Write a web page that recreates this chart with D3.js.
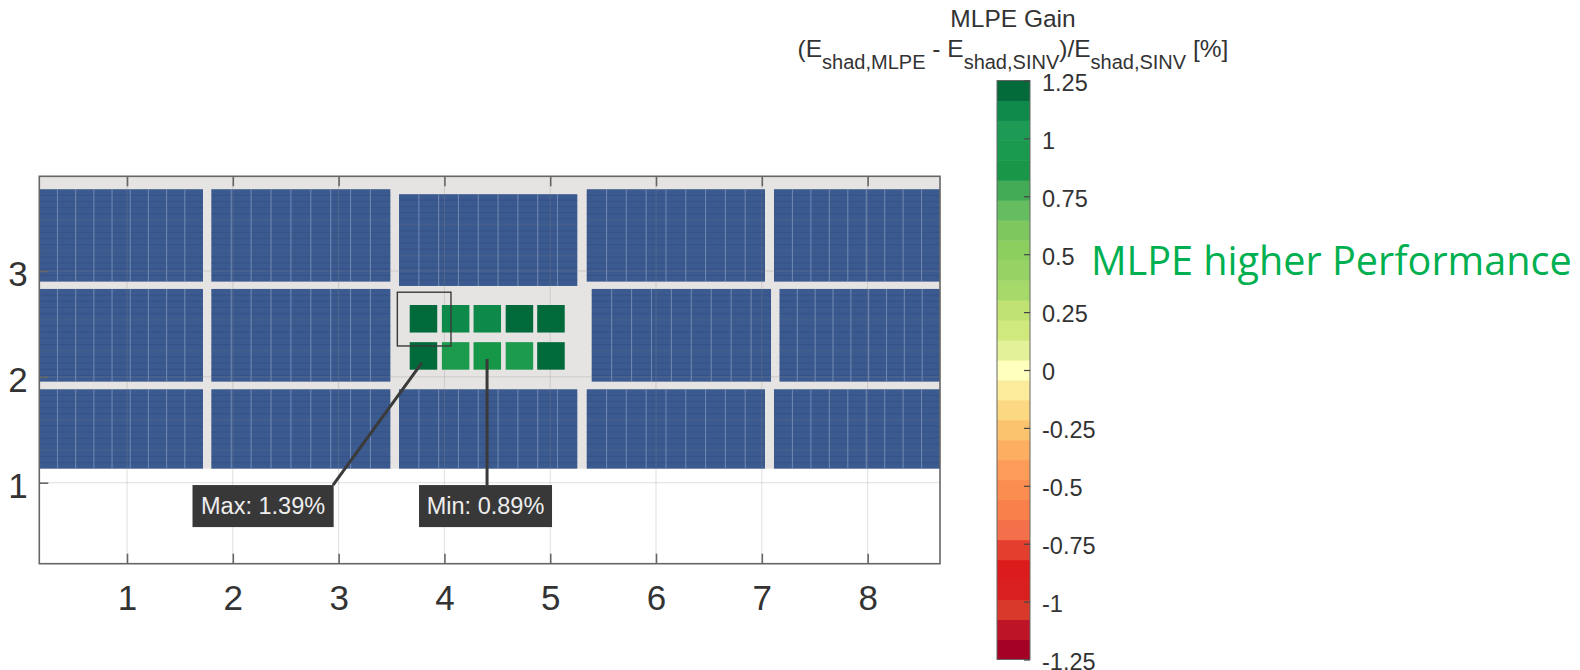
<!DOCTYPE html>
<html>
<head>
<meta charset="utf-8">
<script src="https://cdnjs.cloudflare.com/ajax/libs/d3/7.8.5/d3.min.js"></script>
<style>
  html, body { margin: 0; background: #fff; }
  svg { display: block; font-family: "Liberation Sans", Arial, sans-serif; }
</style>
</head>
<body>
<svg></svg>
<script>
const width = 1580;
const height = 670;

// axis ranges, in roof units
const xDomain = [0.171, 8.684];
const yDomain = [0.235, 3.895];
const xTicks = [1, 2, 3, 4, 5, 6, 7, 8];
const yTicks = [1, 2, 3];

// roof area behind the panels
const roofX = [0.171, 8.684];
const roofY = [1.133, 3.895];

// panel blocks: x0, x1, y0, y1, rows
const blockX0 = [0.171, 1.797, 3.571, 5.345, 7.115, 0.171, 1.797, 5.392, 7.167, 0.171, 1.797, 3.571, 5.345, 7.115];
const blockX1 = [1.718, 3.489, 5.256, 7.030, 8.684, 1.718, 3.489, 7.087, 8.684, 1.718, 3.489, 5.256, 7.030, 8.684];
const blockY0 = [2.900, 2.900, 2.859, 2.900, 2.900, 1.955, 1.955, 1.955, 1.955, 1.133, 1.133, 1.133, 1.133, 1.133];
const blockY1 = [3.773, 3.773, 3.726, 3.773, 3.773, 2.831, 2.831, 2.831, 2.831, 1.883, 1.883, 1.883, 1.883, 1.883];
const blockRows = [15, 15, 15, 15, 15, 15, 15, 15, 15, 13, 13, 13, 13, 13];
const blockCols = 9;

// the ten modules with MLPE, gain in %
const moduleX = [3.802, 4.106, 4.405, 4.709, 5.007, 3.802, 4.106, 4.405, 4.709, 5.007];
const moduleY = [2.549, 2.549, 2.549, 2.549, 2.549, 2.198, 2.198, 2.198, 2.198, 2.198];
const moduleGain = [1.30, 1.12, 1.12, 1.32, 1.30, 1.39, 0.92, 0.89, 0.93, 1.32];
const moduleSize = 0.26;

// colorbar
const gainDomain = [-1.25, 1.25];
const gainTicks = [1.25, 1, 0.75, 0.5, 0.25, 0, -0.25, -0.5, -0.75, -1, -1.25];
const gainColors = [
  "#a50026", "#be1427", "#d8392a", "#d9201f", "#dc1c1c", "#e43f2e", "#f4704a", "#f97f4b",
  "#fb8d50", "#fc9c58", "#fdae61", "#fcc36f", "#fdd883", "#fdeb9c", "#ffffbe",
  "#e3f198", "#cfe97c", "#c0e272", "#a6d96a", "#96d264", "#8dcf5e", "#7ec75f",
  "#66bd60", "#43ab56", "#199647", "#1a9a4e", "#1d9b55", "#0f8a4a", "#036a3a"
];

// callouts
const calloutText = ["Max: 1.39%", "Min: 0.89%"];
const calloutBoxX0 = [1.619, 3.760];
const calloutBoxX1 = [2.953, 5.017];
const calloutBoxY0 = [0.581, 0.581];
const calloutBoxY1 = [0.978, 0.978];
const leaderX0 = [3.785, 4.403];
const leaderY0 = [2.131, 2.169];
const leaderX1 = [2.947, 4.403];
const leaderY1 = [0.978, 0.978];

// selection box round the first module
const selX = [3.555, 4.062];
const selY = [2.292, 2.800];

const svg = d3.select("svg")
    .attr("width", width)
    .attr("height", height);

const defs = svg.append("defs");
defs.append("filter").attr("id", "soft")
    .append("feGaussianBlur").attr("stdDeviation", 0.5);

const x = d3.scaleLinear().domain(xDomain).range([39.3, 940]);
const y = d3.scaleLinear().domain(yDomain).range([563.7, 176.3]);

const textColor = "#333";
const chart = svg.append("g");

// roof
chart.append("rect")
    .attr("x", x(roofX[0]))
    .attr("width", x(roofX[1]) - x(roofX[0]))
    .attr("y", y(roofY[1]))
    .attr("height", y(roofY[0]) - y(roofY[1]))
    .attr("fill", "#e6e4e2");

// panel blocks with their cell lines
const blocks = chart.append("g").attr("filter", "url(#soft)");
blockX0.forEach((x0, i) => {
    const left = x(x0), right = x(blockX1[i]);
    const top = y(blockY1[i]), bottom = y(blockY0[i]);
    const b = blocks.append("g");
    b.append("rect")
        .attr("x", left).attr("y", top)
        .attr("width", right - left).attr("height", bottom - top)
        .attr("fill", "#3b5a90");
    const colX = d3.scaleLinear().domain([0, blockCols]).range([left, right]);
    const rowY = d3.scaleLinear().domain([0, blockRows[i]]).range([top, bottom]);
    b.selectAll("line.row")
        .data(d3.range(1, blockRows[i]))
        .join("line")
        .attr("class", "row")
        .attr("x1", left).attr("x2", right)
        .attr("y1", d => rowY(d)).attr("y2", d => rowY(d))
        .attr("stroke", d => d % 5 === 0 ? "#5d6a80" : "#2c4678")
        .attr("stroke-width", 1)
        .attr("stroke-opacity", 0.4);
    b.selectAll("line.col")
        .data(d3.range(1, blockCols))
        .join("line")
        .attr("class", "col")
        .attr("x1", d => colX(d)).attr("x2", d => colX(d))
        .attr("y1", top).attr("y2", bottom)
        .attr("stroke", "#7f95bb")
        .attr("stroke-width", 1.1)
        .attr("stroke-opacity", 0.75);
});

// faint grid over everything
const grid = chart.append("g").attr("stroke", "#8c8c8c").attr("stroke-opacity", 0.28);
grid.selectAll("line.gx").data(xTicks).join("line")
    .attr("class", "gx")
    .attr("x1", d => x(d)).attr("x2", d => x(d))
    .attr("y1", y.range()[1]).attr("y2", y.range()[0]);
grid.selectAll("line.gy").data(yTicks).join("line")
    .attr("class", "gy")
    .attr("x1", x.range()[0]).attr("x2", x.range()[1])
    .attr("y1", d => y(d)).attr("y2", d => y(d));

// MLPE modules
const gainColor = d3.scaleQuantize().domain(gainDomain).range(gainColors);
const moduleW = x(moduleSize) - x(0);
const moduleH = y(0) - y(moduleSize);
chart.append("g")
    .attr("filter", "url(#soft)")
    .selectAll("rect")
    .data(moduleGain)
    .join("rect")
    .attr("x", (d, i) => x(moduleX[i]) - moduleW / 2)
    .attr("y", (d, i) => y(moduleY[i]) - moduleH / 2)
    .attr("width", moduleW)
    .attr("height", moduleH)
    .attr("fill", d => gainColor(d));

// selection box
chart.append("rect")
    .attr("x", x(selX[0]))
    .attr("y", y(selY[1]))
    .attr("width", x(selX[1]) - x(selX[0]))
    .attr("height", y(selY[0]) - y(selY[1]))
    .attr("fill", "none")
    .attr("stroke", "#3a3a3a")
    .attr("stroke-width", 1.4);

// frame and axes
const frameColor = "#666";
chart.append("rect")
    .attr("x", x.range()[0])
    .attr("y", y.range()[1])
    .attr("width", x.range()[1] - x.range()[0])
    .attr("height", y.range()[0] - y.range()[1])
    .attr("fill", "none")
    .attr("stroke", frameColor)
    .attr("stroke-width", 1.6);

function styleAxis(g, size) {
    g.select(".domain").remove();
    g.selectAll("line").attr("stroke", frameColor).attr("stroke-width", 1.6);
    g.selectAll("text")
        .attr("fill", textColor)
        .style("font-size", size + "px")
        .style("font-family", "'Liberation Sans', Arial, sans-serif");
}

chart.append("g")
    .attr("transform", `translate(0,${y.range()[0]})`)
    .call(d3.axisBottom(x).tickValues(xTicks).tickFormat(d3.format("d")).tickSizeInner(-10).tickSizeOuter(0).tickPadding(21))
    .call(g => styleAxis(g, 35));

chart.append("g")
    .attr("transform", `translate(0,${y.range()[1]})`)
    .call(d3.axisTop(x).tickValues(xTicks).tickFormat("").tickSizeInner(-10).tickSizeOuter(0))
    .call(g => styleAxis(g, 30));

chart.append("g")
    .attr("transform", `translate(${x.range()[0]},0)`)
    .call(d3.axisLeft(y).tickValues(yTicks).tickFormat(d3.format("d")).tickSizeInner(-9).tickSizeOuter(0).tickPadding(11.5))
    .call(g => {
        styleAxis(g, 35);
        g.selectAll("text").attr("dy", "0.41em");
    });

// callouts
const callouts = chart.append("g");
calloutText.forEach((t, i) => {
    callouts.append("line")
        .attr("x1", x(leaderX0[i])).attr("y1", y(leaderY0[i]))
        .attr("x2", x(leaderX1[i])).attr("y2", y(leaderY1[i]))
        .attr("stroke", "#3a3a3a")
        .attr("stroke-width", 3);
    callouts.append("rect")
        .attr("x", x(calloutBoxX0[i]))
        .attr("y", y(calloutBoxY1[i]))
        .attr("width", x(calloutBoxX1[i]) - x(calloutBoxX0[i]))
        .attr("height", y(calloutBoxY0[i]) - y(calloutBoxY1[i]))
        .attr("fill", "#383838");
    callouts.append("text")
        .attr("x", (x(calloutBoxX0[i]) + x(calloutBoxX1[i])) / 2)
        .attr("y", (y(calloutBoxY0[i]) + y(calloutBoxY1[i])) / 2)
        .attr("dy", "0.35em")
        .attr("text-anchor", "middle")
        .attr("fill", "#eee")
        .style("font-size", "23.5px")
        .text(t);
});

// colorbar
const barY = d3.scaleLinear().domain(gainDomain).range([659.5, 80.5]);
const barLeft = 997, barRight = 1030;
const bar = svg.append("g");
bar.append("g")
    .selectAll("rect")
    .data(gainColors)
    .join("rect")
    .attr("x", barLeft)
    .attr("width", barRight - barLeft)
    .attr("y", d => barY(gainColor.invertExtent(d)[1]))
    .attr("height", d => barY(gainColor.invertExtent(d)[0]) - barY(gainColor.invertExtent(d)[1]) + 0.5)
    .attr("fill", d => d);
bar.append("rect")
    .attr("x", barLeft).attr("y", barY.range()[1])
    .attr("width", barRight - barLeft)
    .attr("height", barY.range()[0] - barY.range()[1])
    .attr("fill", "none")
    .attr("stroke", "#666")
    .attr("stroke-width", 1);

bar.append("g")
    .attr("transform", `translate(${barRight},0)`)
    .call(d3.axisRight(barY).tickValues(gainTicks).tickFormat(d => d).tickSizeInner(-6).tickSizeOuter(0).tickPadding(12))
    .call(g => {
        styleAxis(g, 23.5);
        g.selectAll("line").attr("stroke-width", 1.2).attr("stroke", "#444");
        g.selectAll("text").attr("dy", "0.42em");
    });

// colorbar title
const titleX = 1013;
svg.append("text")
    .attr("x", titleX).attr("y", 27)
    .attr("text-anchor", "middle")
    .attr("fill", textColor)
    .style("font-size", "24.5px")
    .text("MLPE Gain");

const formula = svg.append("text")
    .attr("x", titleX).attr("y", 57)
    .attr("text-anchor", "middle")
    .attr("fill", textColor)
    .style("font-size", "24.5px");
const formulaParts = [
    ["(E", false], ["shad,MLPE", true], [" - E", false], ["shad,SINV", true],
    [")/E", false], ["shad,SINV", true], [" [%]", false]
];
let lowered = false;
formulaParts.forEach(([t, sub]) => {
    formula.append("tspan")
        .attr("dy", sub === lowered ? 0 : (sub ? 12 : -12))
        .style("font-size", sub ? "20px" : "24.5px")
        .style("white-space", "pre")
        .attr("xml:space", "preserve")
        .text(t);
    lowered = sub;
});

// green note on the right
svg.append("text")
    .attr("x", 1091).attr("y", 275)
    .attr("fill", "#00b050")
    .style("font-family", "'Open Sans', 'Noto Sans', sans-serif")
    .style("font-size", "39.6px")
    .text("MLPE higher Performance");
</script>
</body>
</html>
